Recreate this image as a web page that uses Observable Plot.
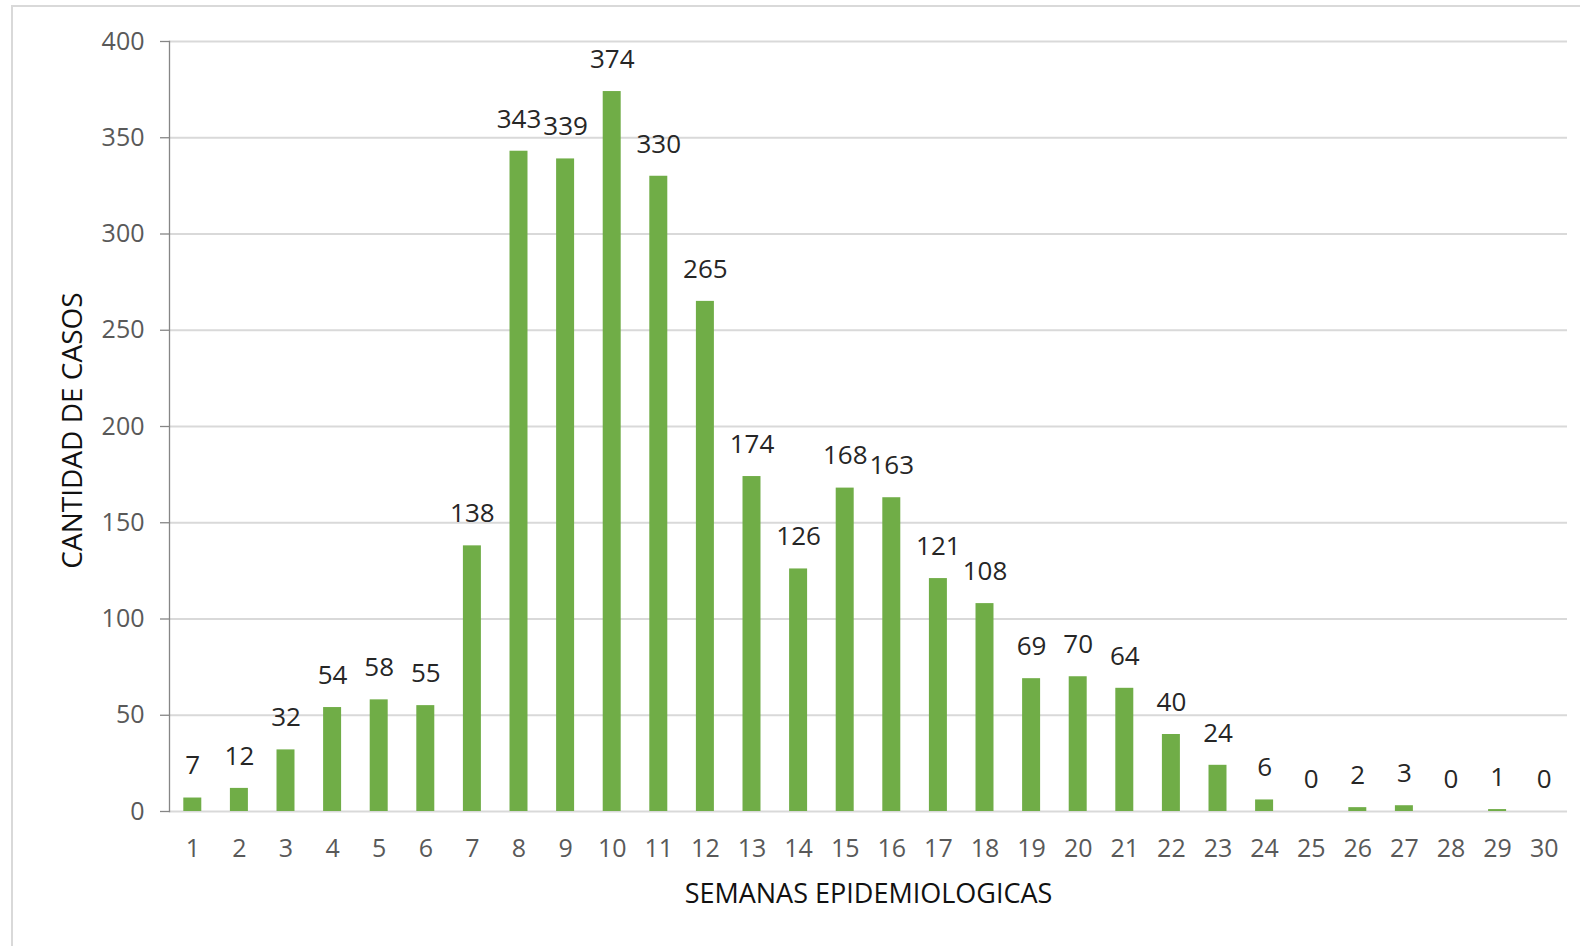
<!DOCTYPE html>
<html>
<head>
<meta charset="utf-8">
<script src="https://cdn.jsdelivr.net/npm/d3@7"></script>
<script src="https://cdn.jsdelivr.net/npm/@observablehq/plot@0.6"></script>
<style>
  html, body { margin: 0; padding: 0; background: #fff; overflow: hidden; }
  #wrap { position: relative; width: 1580px; height: 946px; }
  #border { position: absolute; left: 11px; top: 5px; width: 1620px; height: 1000px;
            border: 2px solid #d9d9d9; pointer-events: none; box-sizing: border-box; }
</style>
</head>
<body>
<div id="wrap"><div id="border"></div></div>
<script>
const weeks = ["1","2","3","4","5","6","7","8","9","10","11","12","13","14","15","16","17","18","19","20","21","22","23","24","25","26","27","28","29","30"];
const cases = [7,12,32,54,58,55,138,343,339,374,330,265,174,126,168,163,121,108,69,70,64,40,24,6,0,2,3,0,1,0];
const yTicks = [0,50,100,150,200,250,300,350,400];
const xTitle = "SEMANAS EPIDEMIOLOGICAS";
const yTitle = "CANTIDAD DE CASOS";

const data = weeks.map((w, i) => ({week: w, value: cases[i]}));

const chart = Plot.plot({
  width: 1580,
  height: 946,
  marginLeft: 169,
  marginRight: 13,
  marginTop: 41,
  marginBottom: 135,
  style: {fontFamily: "'Open Sans', sans-serif", background: "transparent", overflow: "visible"},
  x: {domain: weeks, paddingInner: 0.614, paddingOuter: 0.307, round: false, axis: null},
  y: {domain: [0, 400], axis: null},
  marks: [
    Plot.gridY(yTicks, {stroke: "#d9d9d9", strokeOpacity: 1, strokeWidth: 2}),
    Plot.frame({anchor: "left", stroke: "#868686", strokeWidth: 1.3}),
    Plot.axisY(yTicks, {tickSize: 9, tickPadding: 16, fontSize: 25, fill: "#595959", stroke: "#868686", strokeWidth: 1.3, tickFormat: d => String(d), label: null}),
    Plot.axisX({tickSize: 0, tickPadding: 28, fontSize: 25, fill: "#595959", label: null}),
    Plot.barY(data, {x: "week", y: "value", fill: "#70AD47"}),
    Plot.text(data, {x: "week", y: "value", text: d => String(d.value), dy: -32, fontSize: 26, fill: "#262626"}),
    Plot.text([xTitle], {frameAnchor: "bottom", dy: 83, lineAnchor: "middle", fontSize: 27, fill: "#111"}),
    Plot.text([yTitle], {frameAnchor: "left", textAnchor: "middle", lineAnchor: "middle", dx: -96, dy: 4, rotate: -90, fontSize: 28, fill: "#111"})
  ]
});
document.getElementById("wrap").appendChild(chart);
</script>
</body>
</html>
